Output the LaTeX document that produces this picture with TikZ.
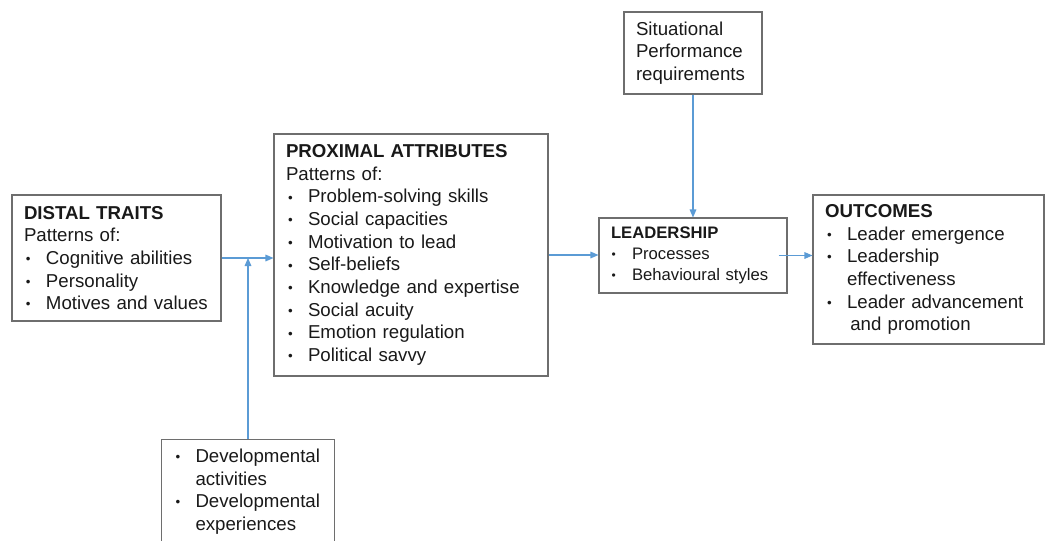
\documentclass[tikz,border=0pt]{standalone}
\usepackage{fontspec}
\setmainfont{Liberation Sans}
\usetikzlibrary{arrows.meta}

\definecolor{arrowblue}{RGB}{91,155,213}
\definecolor{boxgray}{RGB}{110,110,110}

\newcommand{\bul}{\makebox[16.5pt][l]{\hspace{1.5pt}\raisebox{0.6pt}{\fontsize{10}{10}\selectfont\textbullet}}}
\newcommand{\cnt}{\hspace*{16.5pt}}
\newcommand{\sbul}{\makebox[15.75pt][l]{\hspace{0.5pt}\raisebox{0.5pt}{\fontsize{9}{9}\selectfont\textbullet}}}

\tikzset{
  box/.style={draw=boxgray, line width=0.8pt, align=left, inner xsep=9pt, inner ysep=4pt,
    text=black!90, font=\fontsize{14}{17}\selectfont},
  link/.style={draw=arrowblue, line width=0.8pt, -{Triangle[length=6pt,width=5pt]}}
}

\begin{document}
\begin{tikzpicture}[x=0.75pt,y=0.75pt,yscale=-1,xscale=1]
\useasboundingbox (0,0) rectangle (1045,540);

% Text Node
\node[box, text width=138.75pt, minimum height=94.5pt] (distal) at (116.5,258)
  {\textbf{DISTAL TRAITS}\\Patterns of:\\\bul Cognitive abilities\\\bul Personality\\\bul Motives and values};
% Text Node
\node[box, text width=187.5pt, minimum height=181.5pt] (proximal) at (411,255)
  {\textbf{PROXIMAL ATTRIBUTES}\\Patterns of:\\\bul Problem-solving skills\\\bul Social capacities\\\bul Motivation to lead\\\bul Self-beliefs\\\bul Knowledge and expertise\\\bul Social acuity\\\bul Emotion regulation\\\bul Political savvy};
% Text Node
\node[box, text width=85.5pt, minimum height=61.5pt] (situation) at (693,53)
  {Situational\\Performance\\requirements};
% Text Node
\node[box, text width=123pt, minimum height=56.25pt, font=\fontsize{12.5}{15.5}\selectfont] (leader) at (693,255.5)
  {\textbf{LEADERSHIP}\\\sbul Processes\\\sbul Behavioural styles};
% Text Node
\node[box, text width=155.25pt, minimum height=111.75pt] (outcome) at (928.5,269.5)
  {\textbf{OUTCOMES}\\\bul Leader emergence\\\bul Leadership\\\cnt effectiveness\\\bul Leader advancement\\\hspace*{19pt}and promotion};
% Text Node
\node[box, anchor=north, text width=111.75pt, minimum height=78pt] (develop) at (248,439)
  {\bul Developmental\\\cnt activities\\\bul Developmental\\\cnt experiences};

%Straight Lines
\draw[link] (distal.east) -- (distal.east -| proximal.west);
%Straight Lines
\draw[link] (develop.north) -- (develop.north |- distal.east);
%Straight Lines
\draw[link] (proximal.east) -- (proximal.east -| leader.west);
%Straight Lines
\draw[link] (situation.south) -- (leader.north);
%Straight Lines
\draw[link] ([xshift=-6.75pt]leader.east) -- (leader.east -| outcome.west);

\end{tikzpicture}
\end{document}
